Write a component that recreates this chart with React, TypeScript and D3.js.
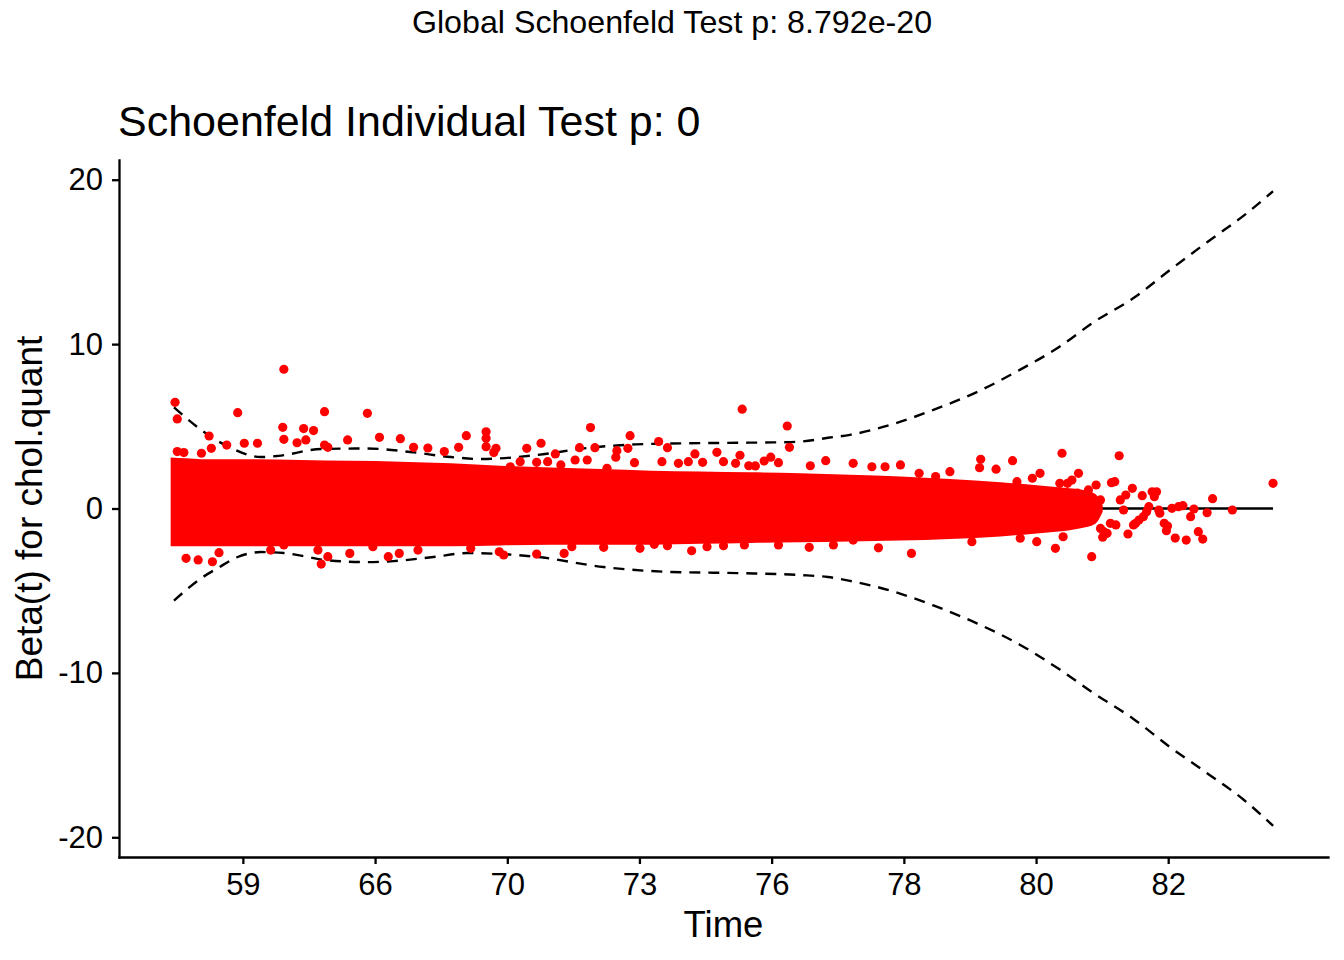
import React, { useEffect, useRef } from "react";
import * as d3 from "d3";

// x is the km-transformed time (0..1), labels are the real times
const timeTickPos = [0.0627, 0.183, 0.3033, 0.4235, 0.5438, 0.6641, 0.7844, 0.9046];
const timeTickLabels = ["59", "66", "70", "73", "76", "78", "80", "82"];
const betaTicks = [-20, -10, 0, 10, 20];

// smoothed beta(t) and its confidence band
const fitTime = [0, 0.1, 0.3, 0.5, 0.7, 0.85, 1];
const fitBeta = [0.3, 0.2, 0.1, 0.05, 0.02, 0, 0];
const upperTime = [0, 0.034, 0.052, 0.079, 0.095, 0.134, 0.176, 0.215, 0.252, 0.279, 0.331, 0.376, 0.42, 0.452, 0.513, 0.545, 0.57, 0.595, 0.615, 0.652, 0.691, 0.731, 0.77, 0.806, 0.836, 0.873, 0.906, 0.94, 0.973, 1.0];
const upperBeta = [6.15, 4.35, 3.68, 3.13, 3.2, 3.62, 3.65, 3.44, 3.13, 3.01, 3.26, 3.68, 3.9, 3.95, 4.0, 4.02, 4.07, 4.3, 4.48, 5.09, 6.0, 7.1, 8.45, 9.85, 11.3, 12.8, 14.5, 16.2, 17.8, 19.3];
const lowerTime = [0, 0.025, 0.04, 0.058, 0.079, 0.1, 0.122, 0.136, 0.176, 0.2, 0.236, 0.267, 0.331, 0.391, 0.452, 0.513, 0.57, 0.595, 0.615, 0.652, 0.691, 0.731, 0.77, 0.806, 0.836, 0.873, 0.906, 0.94, 0.973, 1.0];
const lowerBeta = [-5.6, -4.23, -3.62, -2.95, -2.65, -2.71, -2.95, -3.13, -3.26, -3.2, -2.95, -2.71, -2.95, -3.56, -3.86, -3.93, -4.05, -4.17, -4.4, -5.0, -5.9, -7.0, -8.3, -9.8, -11.2, -12.8, -14.5, -16.1, -17.7, -19.3];

// the overplotted core of the residual cloud (too dense to read point by point)
const coreTime = [-0.003, 0.011, 0.025, 0.07, 0.115, 0.161, 0.206, 0.252, 0.297, 0.343, 0.388, 0.434, 0.479, 0.525, 0.57, 0.615, 0.661, 0.706, 0.752, 0.78, 0.805, 0.825, 0.838, 0.845];
const coreHigh = [3.1, 3.05, 3.0, 3.0, 2.95, 2.9, 2.85, 2.75, 2.6, 2.5, 2.4, 2.3, 2.25, 2.2, 2.15, 2.05, 1.95, 1.8, 1.6, 1.45, 1.3, 1.15, 0.9, 0.2];
const coreLow = [-2.3, -2.3, -2.3, -2.3, -2.3, -2.3, -2.3, -2.3, -2.25, -2.2, -2.2, -2.2, -2.15, -2.1, -2.05, -2.0, -1.95, -1.85, -1.7, -1.55, -1.4, -1.2, -0.95, -0.2];

// residual points visible outside the core
const residualsAbove: [number, number][] = [
  [0.001, 6.46], [0.003, 5.45], [0.058, 5.83], [0.099, 4.94], [0.1, 8.47], [0.032, 4.41], [0.1, 4.21],
  [0.048, 3.86], [0.064, 3.97], [0.076, 3.97], [0.025, 3.36], [0.034, 3.66], [0.003, 3.46], [0.009, 3.4],
  [0.118, 4.86], [0.127, 4.74], [0.12, 4.17], [0.112, 4.0], [0.137, 5.89], [0.176, 5.79], [0.187, 4.33],
  [0.158, 4.17], [0.206, 4.25], [0.266, 4.43], [0.231, 3.68], [0.259, 3.72], [0.218, 3.72], [0.137, 3.86],
  [0.14, 3.72], [0.246, 3.46], [0.284, 4.67], [0.284, 4.27], [0.284, 3.76], [0.293, 3.66], [0.291, 3.4],
  [0.334, 3.97], [0.321, 3.66], [0.369, 3.7], [0.383, 3.7], [0.379, 4.92], [0.347, 3.32], [0.402, 3.12],
  [0.403, 3.52], [0.413, 3.66], [0.415, 4.43], [0.419, 2.79], [0.441, 4.07], [0.449, 3.7], [0.474, 3.32],
  [0.494, 3.42], [0.515, 3.24], [0.517, 6.04], [0.558, 5.02], [0.56, 3.72], [0.306, 2.54], [0.315, 2.85],
  [0.33, 2.81], [0.34, 2.85], [0.352, 2.65], [0.365, 2.95], [0.376, 2.95], [0.394, 2.45], [0.444, 2.85],
  [0.459, 2.75], [0.468, 2.85], [0.481, 2.81], [0.5, 2.85], [0.511, 2.75], [0.523, 2.6], [0.529, 2.59],
  [0.537, 2.89], [0.543, 3.12], [0.55, 2.79], [0.579, 2.6], [0.593, 2.91], [0.618, 2.75], [0.635, 2.54],
  [0.647, 2.54], [0.661, 2.65], [0.678, 2.14], [0.693, 1.94], [0.706, 2.24], [0.733, 2.48], [0.734, 2.99],
  [0.748, 2.39], [0.763, 2.91], [0.767, 1.63], [0.781, 1.84], [0.788, 2.14], [0.808, 3.36], [0.806, 1.53],
  [0.813, 1.53], [0.817, 1.73], [0.822, 0.93], [0.823, 2.14], [0.831, -0.7], [0.832, 1.13], [0.839, 1.43],
  [0.843, 0.52], [0.843, -1.21], [0.845, -1.75], [0.849, -1.51], [0.852, -0.9], [0.853, 1.57], [0.856, 1.63],
  [0.857, -1.0], [0.86, 3.21], [0.861, 0.52], [0.864, -0.09], [0.866, 0.82], [0.868, -1.55], [0.872, 1.23],
  [0.873, -1.0], [0.875, -0.9], [0.878, -0.7], [0.881, 0.78], [0.882, -0.5], [0.885, -0.19], [0.887, 0.11],
  [0.89, 1.02], [0.892, 0.72], [0.894, 1.02], [0.896, -0.09], [0.897, -0.29], [0.901, -0.9], [0.903, -1.35],
  [0.904, -1.07], [0.908, 0.01], [0.911, -1.8], [0.914, 0.11], [0.918, 0.17], [0.921, -1.92], [0.925, -0.5],
  [0.928, -0.03], [0.932, -1.41], [0.936, -1.86], [0.94, -0.26], [0.945, 0.6], [0.963, -0.09], [1.0, 1.53],
];
const residualsBelow: [number, number][] = [
  [0.011, -3.03], [0.022, -3.13], [0.035, -3.24], [0.041, -2.69], [0.088, -2.53], [0.1, -2.22], [0.131, -2.53],
  [0.134, -3.38], [0.14, -2.93], [0.16, -2.73], [0.181, -2.32], [0.195, -2.93], [0.205, -2.73], [0.222, -2.53],
  [0.27, -2.42], [0.296, -2.63], [0.3, -2.83], [0.33, -2.77], [0.355, -2.73], [0.362, -2.32], [0.391, -2.36],
  [0.424, -2.42], [0.437, -2.18], [0.449, -2.26], [0.471, -2.57], [0.485, -2.32], [0.5, -2.26], [0.519, -2.22],
  [0.55, -2.22], [0.578, -2.36], [0.6, -2.22], [0.618, -1.92], [0.641, -2.39], [0.671, -2.73], [0.726, -2.02],
  [0.77, -1.81], [0.785, -2.02], [0.802, -2.42], [0.809, -1.72], [0.835, -2.93], [0.846, -1.41],
];

const FONT = "'Liberation Sans', Arial, Helvetica, sans-serif";

const SchoenfeldPlot: React.FC = () => {
  const svgRef = useRef<SVGSVGElement>(null);

  useEffect(() => {
    const svg = d3.select(svgRef.current);
    svg.selectAll("*").remove();

    const left = 119, right = 1328, top = 160, bottom = 857;

    const x = d3.scaleLinear().domain([-0.05, 1.05]).range([left, right]);
    const y = d3.scaleLinear().domain([-21.2, 21.2]).range([bottom, top]);

    // titles
    svg.append("text")
      .attr("x", 672).attr("y", 33)
      .attr("text-anchor", "middle")
      .attr("font-size", 32.2)
      .text("Global Schoenfeld Test p: 8.792e-20");

    svg.append("text")
      .attr("x", 118).attr("y", 136)
      .attr("font-size", 43)
      .text("Schoenfeld Individual Test p: 0");

    const line = d3.line<[number, number]>()
      .x(d => x(d[0]))
      .y(d => y(d[1]))
      .curve(d3.curveMonotoneX);

    // fitted line and confidence limits
    svg.append("path")
      .attr("d", line(fitTime.map((t, i) => [t, fitBeta[i]] as [number, number])))
      .attr("fill", "none").attr("stroke", "#000").attr("stroke-width", 2.3);

    [[upperTime, upperBeta], [lowerTime, lowerBeta]].forEach(([ts, bs]) => {
      svg.append("path")
        .attr("d", line(ts.map((t, i) => [t, bs[i]] as [number, number])))
        .attr("fill", "none").attr("stroke", "#000").attr("stroke-width", 2.4)
        .attr("stroke-dasharray", "11,8");
    });

    // dense core of the residual cloud
    const core = d3.area<number>()
      .x(t => x(t))
      .y0((_, i) => y(coreLow[i]))
      .y1((_, i) => y(coreHigh[i]))
      .curve(d3.curveMonotoneX);

    svg.append("path")
      .attr("d", core(coreTime))
      .attr("fill", "#ff0000");

    // residual points
    svg.append("g")
      .selectAll("circle")
      .data([...residualsAbove, ...residualsBelow])
      .enter()
      .append("circle")
      .attr("cx", d => x(d[0]))
      .attr("cy", d => y(d[1]))
      .attr("r", 4.6)
      .attr("fill", "#ff0000");

    // axes
    const xAxis = d3.axisBottom(x)
      .tickValues(timeTickPos)
      .tickFormat((_, i) => timeTickLabels[i])
      .tickSize(7).tickPadding(9).tickSizeOuter(0);

    const yAxis = d3.axisLeft(y)
      .tickValues(betaTicks)
      .tickFormat(d => String(d))
      .tickSize(7).tickPadding(9).tickSizeOuter(0);

    const gx = svg.append("g").attr("transform", `translate(0,${bottom})`).call(xAxis);
    const gy = svg.append("g").attr("transform", `translate(${left},0)`).call(yAxis);

    [gx, gy].forEach(g => {
      g.attr("font-family", FONT).attr("font-size", 31);
      g.selectAll("path, line").attr("stroke", "#000").attr("stroke-width", 2.3);
      g.select(".domain").attr("stroke-linecap", "square");
      g.selectAll("text").attr("fill", "#000");
    });

    // axis titles
    svg.append("text")
      .attr("x", (left + right) / 2).attr("y", 937)
      .attr("text-anchor", "middle")
      .attr("font-size", 36.5)
      .text("Time");

    svg.append("text")
      .attr("transform", `translate(42,${(top + bottom) / 2}) rotate(-90)`)
      .attr("text-anchor", "middle")
      .attr("font-size", 37)
      .text("Beta(t) for chol.quant");
  }, []);

  return (
    <svg
      ref={svgRef}
      width={1344}
      height={960}
      style={{ position: "absolute", left: 0, top: 0, background: "#fff", fontFamily: FONT }}
    />
  );
};

export default function App() {
  return <SchoenfeldPlot />;
}
